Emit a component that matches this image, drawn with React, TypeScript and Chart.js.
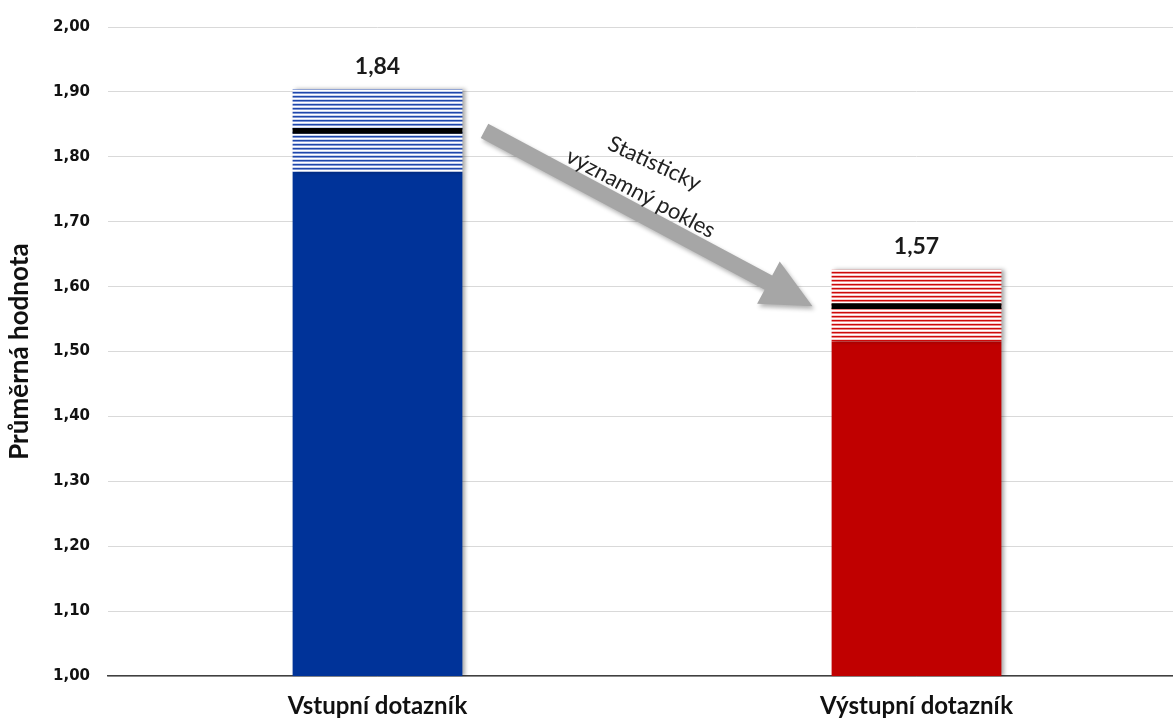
import React, { useEffect, useRef } from "react";
import { Chart, registerables } from "chart.js";

Chart.register(...registerables);

const categories = ["Vstupní dotazník", "Výstupní dotazník"];
const means = [1.84, 1.57];
const lowerCI = [1.777, 1.516];
const upperCI = [1.904, 1.626];
const yTicks = [1.0, 1.1, 1.2, 1.3, 1.4, 1.5, 1.6, 1.7, 1.8, 1.9, 2.0];
const arrowText = ["Statisticky", "významný pokles"];
const yTitle = "Průměrná hodnota";

const BLUE = "#003399";
const RED = "#c00000";

function makePattern(rows: string[]): CanvasPattern | string {
  const c = document.createElement("canvas");
  c.width = 4;
  c.height = rows.length;
  const cx = c.getContext("2d")!;
  rows.forEach((col, i) => {
    cx.fillStyle = col;
    cx.fillRect(0, i, 4, 1);
  });
  const p = cx.createPattern(c, "repeat");
  return p || rows[0];
}

const fmt = (v: number) => v.toFixed(2).replace(".", ",");

export default function App() {
  const ref = useRef<HTMLCanvasElement | null>(null);

  useEffect(() => {
    document.body.style.margin = "0";
    const canvas = ref.current;
    if (!canvas) return;

    const bluePat = makePattern(["#1f47aa", "#7f97d6", "#ffffff", "#c9d4f0"]);
    const redPat = makePattern(["#cc0a0a", "#ee8585", "#ffffff", "#f7cccc"]);
    const halfLine = 0.0045;

    const shadowPlugin = {
      id: "barShadow",
      beforeDatasetDraw(chart: any, args: any) {
        const ctx = chart.ctx;
        ctx.save();
        if (args.index === 1 || args.index === 2) {
          ctx.shadowColor = "rgba(0,0,0,0.35)";
          ctx.shadowOffsetX = 3;
          ctx.shadowOffsetY = 0;
          ctx.shadowBlur = 4;
        }
      },
      afterDatasetDraw(chart: any) {
        chart.ctx.restore();
      },
    };

    const overlayPlugin = {
      id: "overlay",
      afterDatasetsDraw(chart: any) {
        const ctx = chart.ctx;
        const xs = chart.scales.x;
        const ys = chart.scales.y;
        // value labels
        ctx.save();
        ctx.fillStyle = "#1a1a1a";
        ctx.font = "bold 23px Lato";
        ctx.textAlign = "center";
        ctx.textBaseline = "middle";
        means.forEach((m, i) => {
          ctx.fillText(fmt(m), xs.getPixelForValue(i), ys.getPixelForValue(upperCI[i]) - 23);
        });
        ctx.restore();

        // arrow
        const x0 = xs.getPixelForValue(0) + 107;
        const y0 = ys.getPixelForValue(means[0]);
        const x1 = xs.getPixelForValue(1) - 104;
        const y1 = ys.getPixelForValue(means[1]);
        const ang = Math.atan2(y1 - y0, x1 - x0);
        const len = Math.hypot(x1 - x0, y1 - y0);
        const shaftW = 16;
        const headW = 48;
        const headL = 50;
        ctx.save();
        ctx.translate(x0, y0);
        ctx.rotate(ang);
        ctx.shadowColor = "rgba(0,0,0,0.3)";
        ctx.shadowOffsetX = 2;
        ctx.shadowOffsetY = 3;
        ctx.shadowBlur = 4;
        ctx.fillStyle = "#a6a6a6";
        ctx.beginPath();
        ctx.moveTo(0, -shaftW / 2);
        ctx.lineTo(len - headL, -shaftW / 2);
        ctx.lineTo(len - headL, -headW / 2);
        ctx.lineTo(len, 0);
        ctx.lineTo(len - headL, headW / 2);
        ctx.lineTo(len - headL, shaftW / 2);
        ctx.lineTo(0, shaftW / 2);
        ctx.closePath();
        ctx.fill();
        ctx.restore();

        // arrow text
        const mx = (x0 + x1) / 2;
        const my = (y0 + y1) / 2;
        ctx.save();
        ctx.fillStyle = "#222222";
        ctx.font = "22px Lato";
        ctx.textAlign = "center";
        ctx.textBaseline = "middle";
        const pos = [
          [mx + 6, my - 55, 25],
          [mx - 8, my - 25, 28],
        ];
        arrowText.forEach((t, i) => {
          ctx.save();
          ctx.translate(pos[i][0], pos[i][1]);
          ctx.rotate((pos[i][2] * Math.PI) / 180);
          ctx.fillText(t, 0, 0);
          ctx.restore();
        });
        ctx.restore();
      },
    };

    const chart = new Chart(canvas, {
      type: "bar",
      data: {
        labels: categories,
        datasets: [
          {
            label: "mean",
            data: means.map((m) => [m - halfLine, m + halfLine]) as any,
            backgroundColor: "#000000",
            grouped: false,
            barPercentage: 0.315,
            categoryPercentage: 1,
          } as any,
          {
            label: "ci",
            data: lowerCI.map((l, i) => [l, upperCI[i]]) as any,
            backgroundColor: [bluePat, redPat],
            grouped: false,
            barPercentage: 0.315,
            categoryPercentage: 1,
          } as any,
          {
            label: "base",
            data: lowerCI.map((l) => [1, l]) as any,
            backgroundColor: [BLUE, RED],
            grouped: false,
            barPercentage: 0.315,
            categoryPercentage: 1,
          } as any,
        ],
      },
      options: {
        responsive: false,
        animation: false,
        layout: { padding: { top: 6, right: 0, left: 0, bottom: -5 } },
        plugins: {
          legend: { display: false },
          tooltip: { enabled: false },
        },
        scales: {
          x: {
            grid: { display: false },
            border: { display: true, color: "#404040", width: 1.5 },
            ticks: {
              color: "#111111",
              font: { family: "Lato", size: 24, weight: "bold" },
              padding: 8,
            },
          },
          y: {
            min: 1,
            max: 2,
            afterFit(scale: any) {
              scale.width = 108;
            },
            afterBuildTicks(scale: any) {
              scale.ticks = yTicks.map((v) => ({ value: v }));
            },
            grid: { color: "#d9d9d9", lineWidth: 1, drawTicks: false },
            border: { display: false },
            ticks: {
              color: "#111111",
              padding: 18,
              font: { family: "DejaVu Sans", size: 15, weight: "bold" },
              callback: (v: any) => fmt(Number(v)),
            },
            title: {
              display: true,
              text: yTitle,
              color: "#111111",
              font: { family: "Lato", size: 26, weight: "bold" },
              padding: { top: 4, bottom: 0 },
            },
          },
        },
      },
      plugins: [shadowPlugin, overlayPlugin],
    });

    return () => chart.destroy();
  }, []);

  return (
    <div style={{ width: 1173, height: 724, overflow: "hidden" }}>
      <canvas ref={ref} width={1186} height={724} style={{ display: "block" }} />
    </div>
  );
}
